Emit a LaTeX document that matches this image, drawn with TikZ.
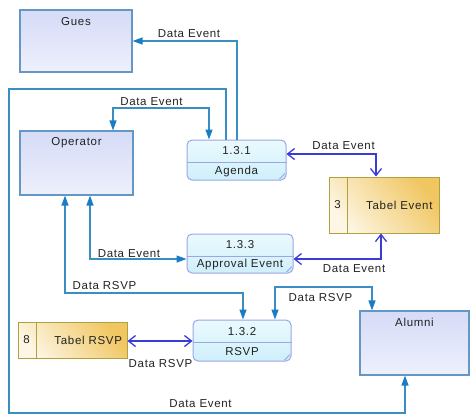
\documentclass[tikz,border=0pt]{standalone}
\usepackage{fontspec}
\setmainfont{Liberation Sans}[LetterSpace=6]
\usetikzlibrary{arrows.meta}
\definecolor{flowc}{HTML}{3A8EC4}
\definecolor{tipc}{HTML}{1A7CC4}
\definecolor{storec}{HTML}{3B3BD6}
\definecolor{entb}{HTML}{6496C6}
\definecolor{entt}{HTML}{D6DBF7}
\definecolor{entbot}{HTML}{EEF0FC}
\definecolor{procb}{HTML}{9AA6E6}
\definecolor{proct}{HTML}{EAFAFE}
\definecolor{procbot}{HTML}{CFEFFA}
\definecolor{storeb}{HTML}{B0A040}
\definecolor{stl}{HTML}{FDF6E4}
\definecolor{str}{HTML}{F0C660}
\definecolor{txt}{HTML}{222222}
\begin{document}
\begin{tikzpicture}[x=1pt,y=-1pt,
  font=\fontsize{11.5}{13}\selectfont, text=txt,
  entity/.style={draw=entb, line width=1.1pt, top color=entt, bottom color=entbot, inner sep=0pt},
  proc/.style={draw=procb, line width=1pt, rounded corners=5pt, top color=proct, bottom color=procbot, inner sep=0pt},
  store/.style={draw=storeb, line width=1pt, top color=str, bottom color=stl, shading angle=-50, inner sep=0pt},
  procline/.style={draw=procb, line width=1pt},
  storeline/.style={draw=storeb, line width=1pt},
  flow/.style={draw=flowc, line width=1.3pt},
  sflow/.style={draw=storec, line width=1.3pt},
  tri/.tip={Triangle[length=10pt,width=7pt,color=tipc]},
  barb/.tip={Straight Barb[length=7pt,width=11pt,color=storec]},
  lbl/.style={inner sep=0pt}
]
\useasboundingbox (0,0) rectangle (470,416);

% external entities
\node[entity, minimum width=112, minimum height=62] (gues) at (76,41) {};
\node at ([yshift=-12pt]gues.north) {Gues};
\node[entity, minimum width=113, minimum height=64] (operator) at (76.5,163) {};
\node at ([yshift=-12pt]operator.north) {Operator};
\node[entity, minimum width=109, minimum height=64] (alumni) at (414.5,343) {};
\node at ([yshift=-12pt]alumni.north) {Alumni};

% processes
\node[proc, minimum width=99, minimum height=40] (agenda) at (236.5,160) {};
\draw[procline] (agenda.west |- 0,162) -- (agenda.east |- 0,162);
\draw[procline] ([xshift=-7pt,yshift=1.5pt]agenda.south east) -- ([xshift=-1.5pt,yshift=7pt]agenda.south east);
\node at (236.5,151) {1.3.1};
\node at (236.5,171.5) {Agenda};

\node[proc, minimum width=106, minimum height=39] (approval) at (240,253.5) {};
\draw[procline] (approval.west |- 0,256) -- (approval.east |- 0,256);
\draw[procline] ([xshift=-7pt,yshift=1.5pt]approval.south east) -- ([xshift=-1.5pt,yshift=7pt]approval.south east);
\node at (240,245) {1.3.3};
\node at (240,265) {Approval Event};

\node[proc, minimum width=98, minimum height=41] (rsvp) at (242,340.5) {};
\draw[procline] (rsvp.west |- 0,342) -- (rsvp.east |- 0,342);
\draw[procline] ([xshift=-7pt,yshift=1.5pt]rsvp.south east) -- ([xshift=-1.5pt,yshift=7pt]rsvp.south east);
\node at (242,331.5) {1.3.2};
\node at (242,352) {RSVP};

% data stores
\node[store, minimum width=110, minimum height=56] (tevent) at (384,205) {};
\draw[storeline] (tevent.north -| 347,0) -- (tevent.south -| 347,0);
\node at (337.5,205) {3};
\node[anchor=east] at (436,205) {Tabel Event};

\node[store, minimum width=109, minimum height=36] (trsvp) at (72.5,340) {};
\draw[storeline] (trsvp.north -| 36,0) -- (trsvp.south -| 36,0);
\node at (26.5,340) {8};
\node[anchor=east] at (125.5,340) {Tabel RSVP};

% flows
\draw[flow, -tri] (agenda.north -| 237,0) |- (gues.east);
\node[lbl] at (189,34) {Data Event};

\draw[flow, -tri] (agenda.north -| 226,0) -- (226,89) -- (9,89) -- (9,413) -- (405,413) -- (alumni.south -| 405,0);
\node[lbl] at (200.5,404) {Data Event};

\draw[flow, tri-tri] (operator.north -| 113,0) |- (209,108) -- (agenda.north -| 209,0);
\node[lbl] at (151.5,102) {Data Event};

\draw[sflow, barb-barb] (agenda.east |- 0,154) -| (tevent.north -| 376,0);
\node[lbl] at (343.5,146) {Data Event};

\draw[sflow, barb-barb] (approval.east |- 0,259) -| (tevent.south -| 381,0);
\node[lbl] at (354,268.5) {Data Event};

\draw[flow, tri-tri] (operator.south -| 90,0) |- (approval.west |- 0,259);
\node[lbl] at (129,254) {Data Event};

\draw[flow, tri-tri] (operator.south -| 65,0) |- (243,293) -- (rsvp.north -| 243,0);
\node[lbl] at (104.5,285.5) {Data RSVP};

\draw[flow, tri-tri] (rsvp.north -| 275,0) |- (372,287) -- (alumni.north -| 372,0);
\node[lbl] at (320.5,298) {Data RSVP};

\draw[sflow, barb-barb] (trsvp.east |- 0,341) -- (rsvp.west |- 0,341);
\node[lbl] at (160.5,363.5) {Data RSVP};
\end{tikzpicture}
\end{document}
